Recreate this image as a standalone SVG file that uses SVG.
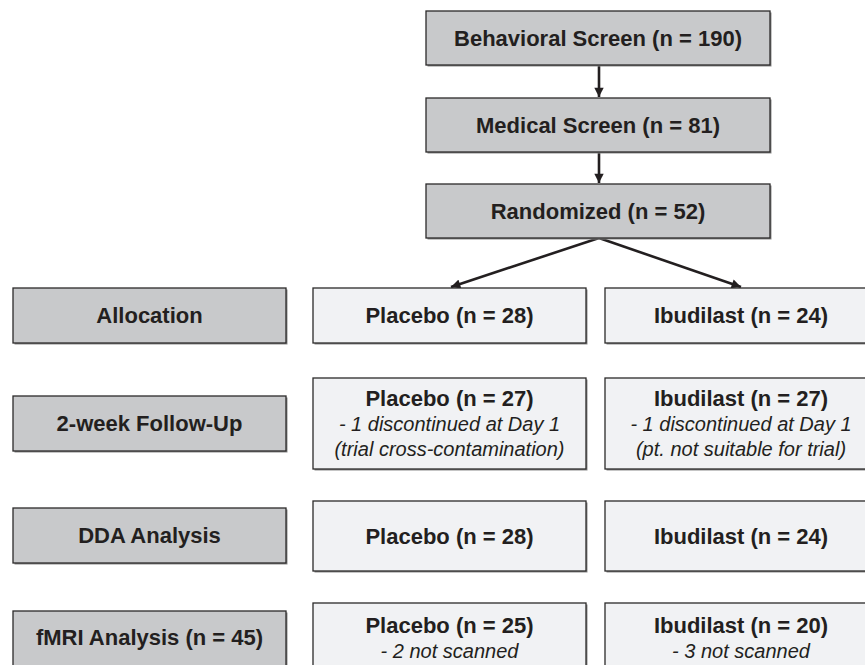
<svg xmlns="http://www.w3.org/2000/svg" width="865" height="665" viewBox="0 0 865 665">
<defs>
<style>
.g{fill:#c8c9cb;stroke:#2b2a2a;stroke-width:1.3}
.l{fill:#f1f2f4;stroke:#2b2a2a;stroke-width:1.3}
.sh{fill:#8c8c8c}
.t{font-family:"Liberation Sans",Arial,sans-serif;font-weight:bold;font-size:22px;fill:#231f20;text-anchor:middle}
.i{font-family:"Liberation Sans",Arial,sans-serif;font-style:italic;font-size:20px;fill:#231f20;text-anchor:middle}
.c{stroke:#231f20;stroke-width:2.6;fill:none}
</style>
<marker id="ah" viewBox="0 0 10 10" refX="10" refY="5" markerWidth="4" markerHeight="3.6" orient="auto" markerUnits="strokeWidth">
<path d="M0,0 L10,5 L0,10 Z" fill="#231f20"/>
</marker>
</defs>
<rect width="865" height="665" fill="#ffffff"/>

<g id="connectors">
<line class="c" x1="599" y1="65" x2="599" y2="97" marker-end="url(#ah)"/>
<line class="c" x1="599" y1="152" x2="599" y2="183" marker-end="url(#ah)"/>
<line class="c" x1="599" y1="238" x2="451" y2="287" marker-end="url(#ah)"/>
<line class="c" x1="599" y1="238" x2="741" y2="287" marker-end="url(#ah)"/>
</g>

<g id="behavioral">
<rect class="sh" x="427.5" y="12.5" width="344" height="54"/>
<rect class="g" x="426" y="11" width="344" height="54"/>
<text class="t" x="598" y="46">Behavioral Screen (n = 190)</text>
</g>
<g id="medical">
<rect class="sh" x="427.5" y="99.5" width="344" height="54"/>
<rect class="g" x="426" y="98" width="344" height="54"/>
<text class="t" x="598" y="133">Medical Screen (n = 81)</text>
</g>
<g id="randomized">
<rect class="sh" x="427.5" y="185.5" width="344" height="54"/>
<rect class="g" x="426" y="184" width="344" height="54"/>
<text class="t" x="598" y="219">Randomized (n = 52)</text>
</g>

<g id="allocation">
<rect class="sh" x="14.5" y="289.5" width="273" height="55"/>
<rect class="g" x="13" y="288" width="273" height="55"/>
<text class="t" x="149.5" y="323">Allocation</text>
</g>
<g id="placebo-alloc">
<rect class="sh" x="314.5" y="289.5" width="273" height="55"/>
<rect class="l" x="313" y="288" width="273" height="55"/>
<text class="t" x="449.5" y="323">Placebo (n = 28)</text>
</g>
<g id="ibudilast-alloc">
<rect class="sh" x="606.5" y="289.5" width="273" height="55"/>
<rect class="l" x="605" y="288" width="273" height="55"/>
<text class="t" x="741" y="323">Ibudilast (n = 24)</text>
</g>

<g id="followup">
<rect class="sh" x="14.5" y="397.5" width="273" height="55"/>
<rect class="g" x="13" y="396" width="273" height="55"/>
<text class="t" x="149.5" y="431">2-week Follow-Up</text>
</g>
<g id="placebo-followup">
<rect class="sh" x="314.5" y="379.5" width="273" height="91"/>
<rect class="l" x="313" y="378" width="273" height="91"/>
<text class="t" x="449.5" y="406">Placebo (n = 27)</text>
<text class="i" x="449.5" y="431">- 1 discontinued at Day 1</text>
<text class="i" x="449.5" y="456">(trial cross-contamination)</text>
</g>
<g id="ibudilast-followup">
<rect class="sh" x="606.5" y="379.5" width="273" height="91"/>
<rect class="l" x="605" y="378" width="273" height="91"/>
<text class="t" x="741" y="406">Ibudilast (n = 27)</text>
<text class="i" x="741" y="431">- 1 discontinued at Day 1</text>
<text class="i" x="741" y="456">(pt. not suitable for trial)</text>
</g>

<g id="dda">
<rect class="sh" x="14.5" y="509.5" width="273" height="55"/>
<rect class="g" x="13" y="508" width="273" height="55"/>
<text class="t" x="149.5" y="543">DDA Analysis</text>
</g>
<g id="placebo-dda">
<rect class="sh" x="314.5" y="502.5" width="273" height="70"/>
<rect class="l" x="313" y="501" width="273" height="70"/>
<text class="t" x="449.5" y="544">Placebo (n = 28)</text>
</g>
<g id="ibudilast-dda">
<rect class="sh" x="606.5" y="502.5" width="273" height="70"/>
<rect class="l" x="605" y="501" width="273" height="70"/>
<text class="t" x="741" y="544">Ibudilast (n = 24)</text>
</g>

<g id="fmri">
<rect class="sh" x="14.5" y="612.5" width="273" height="70"/>
<rect class="g" x="13" y="611" width="273" height="70"/>
<text class="t" x="149.5" y="645">fMRI Analysis (n = 45)</text>
</g>
<g id="placebo-fmri">
<rect class="sh" x="314.5" y="604.5" width="273" height="80"/>
<rect class="l" x="313" y="603" width="273" height="80"/>
<text class="t" x="449.5" y="633">Placebo (n = 25)</text>
<text class="i" x="449.5" y="658">- 2 not scanned</text>
</g>
<g id="ibudilast-fmri">
<rect class="sh" x="606.5" y="604.5" width="273" height="80"/>
<rect class="l" x="605" y="603" width="273" height="80"/>
<text class="t" x="741" y="633">Ibudilast (n = 20)</text>
<text class="i" x="741" y="658">- 3 not scanned</text>
</g>
</svg>
